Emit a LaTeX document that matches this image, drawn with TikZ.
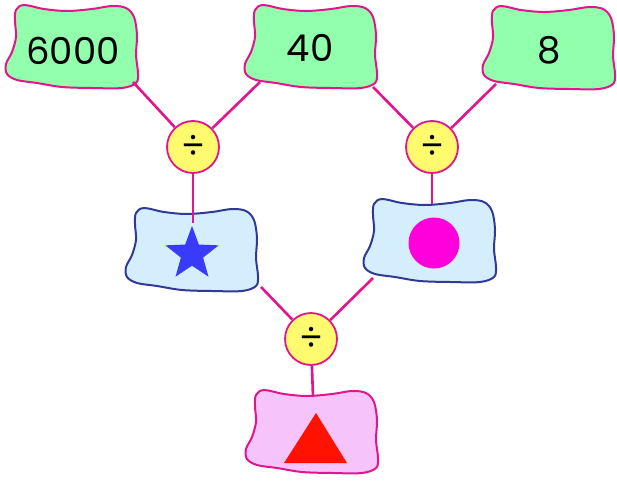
\documentclass[tikz,border=0pt]{standalone}
\usepackage{fontspec}
\setmainfont{Poppins}
\usetikzlibrary{shapes.geometric}
\definecolor{lnk}{RGB}{228,20,140}
\definecolor{greenfill}{RGB}{146,255,172}
\definecolor{bluefill}{RGB}{212,238,253}
\definecolor{blueedge}{RGB}{48,58,150}
\definecolor{pinkfill}{RGB}{246,196,250}
\definecolor{opfill}{RGB}{255,250,110}
\definecolor{starblue}{RGB}{58,58,250}
\definecolor{dotmag}{RGB}{255,0,220}
\definecolor{trired}{RGB}{255,18,0}
\newcommand\blobat[2]{\draw[#1,shift={#2}] plot[smooth cycle, tension=0.55] coordinates {(-48,-42) (-28,-38) (-5,-36) (20,-38) (40,-41) (54,-39) (62,-30) (65,-12) (64,8) (66,26) (64,36) (50,41) (20,41) (-10,40) (-35,36) (-55,33) (-65,27) (-66,17) (-60,5) (-56,-10) (-57,-26) (-56,-37)};}
\tikzset{
  greenblob/.style={fill=greenfill, draw=lnk, line width=2pt},
  blueblob/.style={fill=bluefill, draw=blueedge, line width=2pt},
  pinkblob/.style={fill=pinkfill, draw=lnk, line width=2pt},
  numtxt/.style={inner sep=0pt, font=\fontsize{37}{40}\selectfont},
  opnode/.style={circle, fill=opfill, draw=lnk, line width=1.8pt, minimum size=52pt, inner sep=0pt, font=\fontsize{36}{36}\selectfont},
  conn/.style={draw=lnk, line width=2.6pt}
}
\begin{document}
\begin{tikzpicture}[x=1pt,y=-1pt]
\useasboundingbox (0,0) rectangle (617,484);
% blobs
\blobat{greenblob}{(72,47)}
\blobat{greenblob}{(311,47)}
\blobat{greenblob}{(549,48)}
\blobat{blueblob}{(192,250)}
\blobat{blueblob}{(430,241)}
\blobat{pinkblob}{(312,432)}
% texts
\node[numtxt] (n6000) at (73,51) {6000};
\node[numtxt] (n40) at (310,48) {40};
\node[numtxt] (n8) at (549,50) {8};
% operators
\node[opnode] (d1) at (193,147) {÷};
\node[opnode] (d2) at (432,147) {÷};
\node[opnode] (d3) at (311,339) {÷};
% box anchors
\coordinate (bstar) at (192,250);
\coordinate (bdot) at (430,241);
\coordinate (btri) at (312,432);
\coordinate (e1) at ([shift={(60,31)}]n6000.center);
\coordinate (e2) at ([shift={(-50,34)}]n40.center);
\coordinate (e3) at ([shift={(63,39)}]n40.center);
\coordinate (e4) at ([shift={(-53,34)}]n8.center);
\coordinate (e5) at ([shift={(1,-27)}]bstar);
\coordinate (e6) at ([shift={(2,-37)}]bdot);
\coordinate (e7) at ([shift={(69,37)}]bstar);
\coordinate (e8) at ([shift={(-57,37)}]bdot);
\coordinate (e9) at ([shift={(1,-35)}]btri);
% connectors
\draw[conn] (e1) -- (d1);
\draw[conn] (e2) -- (d1);
\draw[conn] (e3) -- (d2);
\draw[conn] (e4) -- (d2);
\draw[conn] (d1) -- (e5);
\draw[conn] (d2) -- (e6);
\draw[conn] (e7) -- (d3);
\draw[conn] (e8) -- (d3);
\draw[conn] (d3) -- (e9);
% symbols
\node[star, star points=5, star point ratio=2.4, fill=starblue, minimum size=56pt, inner sep=0pt] (st) at (192,254) {};
\node[circle, fill=dotmag, minimum size=51pt, inner sep=0pt] (dot) at (434,243) {};
\fill[trired] (316,413) -- (347,463) -- (284,463) -- cycle;
\end{tikzpicture}
\end{document}
